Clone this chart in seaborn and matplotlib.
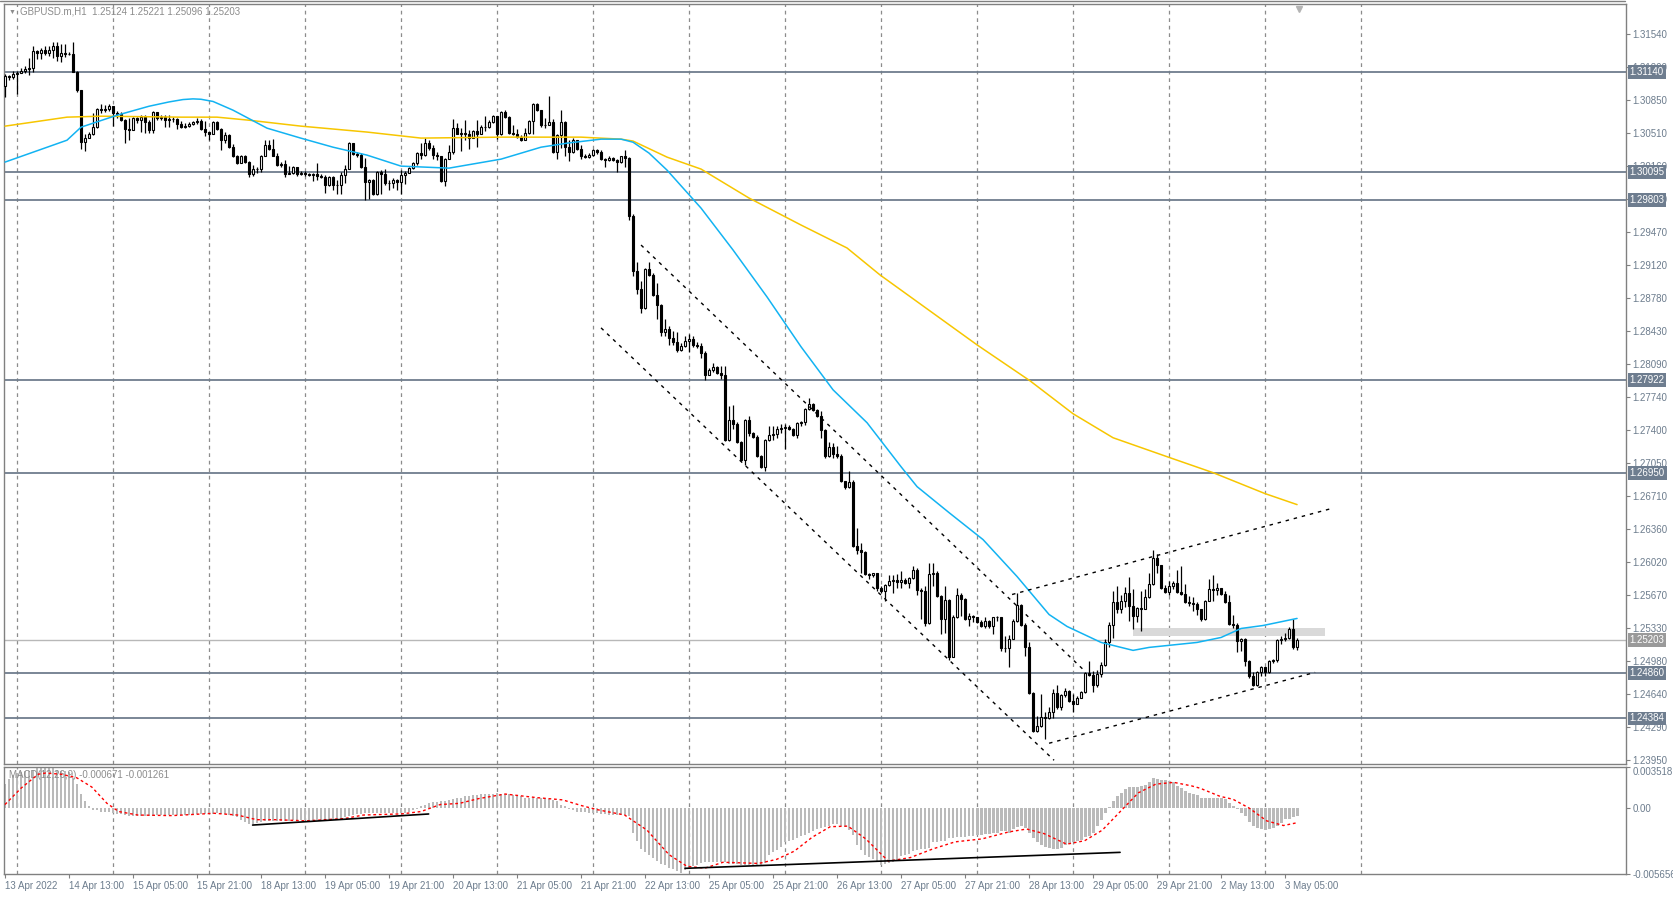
import numpy as np
import seaborn as sns
import matplotlib.pyplot as plt
from matplotlib.lines import Line2D
from matplotlib.transforms import blended_transform_factory

# GBPUSD.m H1 candles, 13 Apr 2022 21:00 .. 3 May 2022 08:00 (open = previous close)
first_open = 1.3100
closes = [
    1.3110, 1.3109, 1.3112, 1.3113, 1.3115, 1.3117, 1.3118, 1.3136, 1.3134, 1.3137,
    1.3134, 1.3137, 1.3141, 1.3131, 1.3134, 1.3133, 1.3133, 1.3114, 1.3095, 1.3041,
    1.3045, 1.3050, 1.3057, 1.3076, 1.3075, 1.3076, 1.3079, 1.3071, 1.3070, 1.3064,
    1.3055, 1.3054, 1.3066, 1.3064, 1.3067, 1.3062, 1.3054, 1.3073, 1.3066, 1.3067,
    1.3064, 1.3065, 1.3065, 1.3060, 1.3057, 1.3058, 1.3060, 1.3062, 1.3063, 1.3055,
    1.3052, 1.3049, 1.3062, 1.3055, 1.3043, 1.3048, 1.3036, 1.3026, 1.3019, 1.3026,
    1.3020, 1.3008, 1.3013, 1.3013, 1.3027, 1.3038, 1.3034, 1.3027, 1.3017, 1.3018,
    1.3008, 1.3009, 1.3015, 1.3008, 1.3009, 1.3008, 1.3007, 1.3008, 1.3006, 1.3005,
    1.2996, 1.3005, 1.2996, 1.2996, 1.3007, 1.3013, 1.3040, 1.3029, 1.3028, 1.3015,
    1.2999, 1.3001, 1.2987, 1.3010, 1.3008, 1.2998, 1.2998, 1.3001, 1.2999, 1.3007,
    1.3009, 1.3014, 1.3019, 1.3030, 1.3028, 1.3040, 1.3035, 1.3028, 1.3026, 1.3000,
    1.3023, 1.3031, 1.3056, 1.3050, 1.3051, 1.3049, 1.3045, 1.3053, 1.3050, 1.3057,
    1.3057, 1.3062, 1.3068, 1.3050, 1.3073, 1.3067, 1.3051, 1.3050, 1.3046, 1.3043,
    1.3051, 1.3063, 1.3081, 1.3075, 1.3059, 1.3059, 1.3062, 1.3031, 1.3048, 1.3062,
    1.3036, 1.3031, 1.3043, 1.3034, 1.3026, 1.3025, 1.3028, 1.3033, 1.3031, 1.3023,
    1.3022, 1.3024, 1.3022, 1.3020, 1.3026, 1.3024, 1.2964, 1.2906, 1.2887, 1.2868,
    1.2908, 1.2902, 1.2881, 1.2871, 1.2842, 1.2846, 1.2836, 1.2832, 1.2824, 1.2828,
    1.2833, 1.2835, 1.2829, 1.2828, 1.2821, 1.2798, 1.2803, 1.2806, 1.2800, 1.2798,
    1.2730, 1.2750, 1.2746, 1.2727, 1.2709, 1.2750, 1.2737, 1.2733, 1.2713, 1.2701,
    1.2730, 1.2735, 1.2736, 1.2741, 1.2742, 1.2743, 1.2741, 1.2735, 1.2747, 1.2748,
    1.2762, 1.2767, 1.2761, 1.2755, 1.2740, 1.2713, 1.2722, 1.2715, 1.2713, 1.2687,
    1.2680, 1.2686, 1.2619, 1.2615, 1.2612, 1.2589, 1.2588, 1.2590, 1.2575, 1.2572,
    1.2578, 1.2582, 1.2583, 1.2581, 1.2583, 1.2580, 1.2585, 1.2594, 1.2573, 1.2572,
    1.2538, 1.2589, 1.2590, 1.2566, 1.2542, 1.2562, 1.2503, 1.2544, 1.2568, 1.2563,
    1.2542, 1.2546, 1.2544, 1.2539, 1.2535, 1.2540, 1.2535, 1.2544, 1.2545, 1.2512,
    1.2512, 1.2522, 1.2540, 1.2557, 1.2536, 1.2513, 1.2465, 1.2425, 1.2431, 1.2440,
    1.2439, 1.2445, 1.2465, 1.2450, 1.2463, 1.2467, 1.2457, 1.2454, 1.2460, 1.2466,
    1.2486, 1.2484, 1.2473, 1.2485, 1.2494, 1.2518, 1.2536, 1.2560, 1.2553, 1.2561,
    1.2570, 1.2556, 1.2546, 1.2554, 1.2553, 1.2565, 1.2579, 1.2606, 1.2599, 1.2575,
    1.2571, 1.2577, 1.2580, 1.2571, 1.2569, 1.2560, 1.2559, 1.2558, 1.2553, 1.2542,
    1.2561, 1.2574, 1.2573, 1.2575, 1.2569, 1.2560, 1.2537, 1.2536, 1.2519, 1.2522,
    1.2499, 1.2483, 1.2473, 1.2487, 1.2492, 1.2487, 1.2498, 1.2500, 1.2520, 1.2521,
    1.2523, 1.2532, 1.2513, 1.25203,
]
highs = [
    1.3112, 1.3111, 1.3115, 1.3115, 1.3118, 1.3121, 1.3129, 1.3141, 1.3137, 1.3139,
    1.3141, 1.3141, 1.3146, 1.3146, 1.3144, 1.3144, 1.3135, 1.3146, 1.3115, 1.3096,
    1.3050, 1.3052, 1.3071, 1.3077, 1.3081, 1.3080, 1.3081, 1.3076, 1.3074, 1.3072,
    1.3065, 1.3066, 1.3067, 1.3067, 1.3069, 1.3069, 1.3064, 1.3074, 1.3073, 1.3069,
    1.3069, 1.3069, 1.3067, 1.3066, 1.3063, 1.3061, 1.3062, 1.3063, 1.3066, 1.3065,
    1.3063, 1.3052, 1.3063, 1.3063, 1.3056, 1.3052, 1.3049, 1.3039, 1.3028, 1.3028,
    1.3028, 1.3021, 1.3017, 1.3015, 1.3028, 1.3043, 1.3043, 1.3044, 1.3030, 1.3020,
    1.3022, 1.3016, 1.3016, 1.3012, 1.3011, 1.3011, 1.3009, 1.3009, 1.3019, 1.3008,
    1.3007, 1.3006, 1.3006, 1.3001, 1.3010, 1.3017, 1.3041, 1.3040, 1.3031, 1.3030,
    1.3024, 1.3002, 1.3002, 1.3011, 1.3012, 1.3013, 1.3001, 1.3003, 1.3002, 1.3012,
    1.3011, 1.3015, 1.3020, 1.3031, 1.3040, 1.3045, 1.3043, 1.3038, 1.3031, 1.3026,
    1.3024, 1.3038, 1.3065, 1.3061, 1.3056, 1.3064, 1.3054, 1.3054, 1.3064, 1.3059,
    1.3068, 1.3064, 1.3069, 1.3068, 1.3074, 1.3075, 1.3068, 1.3059, 1.3055, 1.3048,
    1.3056, 1.3064, 1.3082, 1.3082, 1.3075, 1.3066, 1.3089, 1.3065, 1.3049, 1.3075,
    1.3063, 1.3043, 1.3045, 1.3040, 1.3038, 1.3029, 1.3030, 1.3034, 1.3034, 1.3033,
    1.3024, 1.3026, 1.3025, 1.3023, 1.3027, 1.3033, 1.3025, 1.2966, 1.2916, 1.2896,
    1.2909, 1.2916, 1.2904, 1.2894, 1.2872, 1.2856, 1.2849, 1.2843, 1.2842, 1.2831,
    1.2838, 1.2840, 1.2838, 1.2832, 1.2831, 1.2823, 1.2805, 1.2810, 1.2807, 1.2807,
    1.2807, 1.2765, 1.2766, 1.2748, 1.2728, 1.2751, 1.2755, 1.2738, 1.2735, 1.2714,
    1.2731, 1.2744, 1.2744, 1.2744, 1.2746, 1.2746, 1.2745, 1.2742, 1.2748, 1.2749,
    1.2763, 1.2773, 1.2768, 1.2762, 1.2760, 1.2741, 1.2727, 1.2726, 1.2723, 1.2715,
    1.2687, 1.2697, 1.2688, 1.2638, 1.2622, 1.2613, 1.2591, 1.2591, 1.2589, 1.2577,
    1.2579, 1.2588, 1.2588, 1.2589, 1.2593, 1.2585, 1.2586, 1.2598, 1.2596, 1.2575,
    1.2577, 1.2601, 1.2601, 1.2593, 1.2567, 1.2577, 1.2563, 1.2547, 1.2575, 1.2570,
    1.2564, 1.2549, 1.2547, 1.2545, 1.2541, 1.2544, 1.2541, 1.2545, 1.2546, 1.2541,
    1.2525, 1.2526, 1.2542, 1.2570, 1.2558, 1.2538, 1.2518, 1.2466, 1.2441, 1.2464,
    1.2445, 1.2450, 1.2469, 1.2473, 1.2464, 1.2470, 1.2468, 1.2464, 1.2462, 1.2467,
    1.2487, 1.2498, 1.2488, 1.2489, 1.2497, 1.2521, 1.2539, 1.2572, 1.2577, 1.2567,
    1.2576, 1.2586, 1.2574, 1.2555, 1.2572, 1.2574, 1.2591, 1.2615, 1.2610, 1.2599,
    1.2578, 1.2582, 1.2582, 1.2594, 1.2598, 1.2579, 1.2566, 1.2565, 1.2560, 1.2553,
    1.2562, 1.2584, 1.2588, 1.2580, 1.2575, 1.2572, 1.2567, 1.2547, 1.2538, 1.2523,
    1.2523, 1.2500, 1.2487, 1.2488, 1.2493, 1.2492, 1.2500, 1.2501, 1.2521, 1.2525,
    1.2528, 1.2534, 1.2542, 1.25221,
]
lows = [
    1.3088, 1.3106, 1.3107, 1.3091, 1.3113, 1.3113, 1.3111, 1.3114, 1.3128, 1.3128,
    1.3132, 1.3131, 1.3129, 1.3126, 1.3125, 1.3130, 1.3132, 1.3114, 1.3093, 1.3034,
    1.3032, 1.3045, 1.3048, 1.3056, 1.3071, 1.3073, 1.3074, 1.3058, 1.3066, 1.3063,
    1.3040, 1.3043, 1.3054, 1.3061, 1.3052, 1.3051, 1.3051, 1.3051, 1.3064, 1.3064,
    1.3057, 1.3057, 1.3062, 1.3055, 1.3056, 1.3056, 1.3057, 1.3059, 1.3060, 1.3054,
    1.3047, 1.3043, 1.3049, 1.3054, 1.3033, 1.3040, 1.3035, 1.3025, 1.3018, 1.3019,
    1.3019, 1.3005, 1.3006, 1.3009, 1.3010, 1.3026, 1.3033, 1.3026, 1.3016, 1.3015,
    1.3005, 1.3008, 1.3008, 1.3006, 1.3007, 1.3006, 1.3006, 1.3000, 1.3001, 1.3003,
    1.2988, 1.2995, 1.2991, 1.2987, 1.2987, 1.2998, 1.3013, 1.3028, 1.3025, 1.3014,
    1.2980, 1.2981, 1.2986, 1.2986, 1.2987, 1.2996, 1.2991, 1.2993, 1.2991, 1.2987,
    1.2997, 1.3009, 1.3013, 1.3017, 1.3023, 1.3027, 1.3033, 1.3023, 1.3022, 1.2999,
    1.2995, 1.3027, 1.3029, 1.3049, 1.3032, 1.3043, 1.3034, 1.3045, 1.3036, 1.3049,
    1.3053, 1.3056, 1.3061, 1.3044, 1.3048, 1.3066, 1.3050, 1.3048, 1.3045, 1.3042,
    1.3043, 1.3049, 1.3050, 1.3074, 1.3057, 1.3056, 1.3059, 1.3030, 1.3023, 1.3035,
    1.3026, 1.3021, 1.3030, 1.3033, 1.3023, 1.3024, 1.3024, 1.3027, 1.3029, 1.3022,
    1.3015, 1.3021, 1.3021, 1.3010, 1.3019, 1.3015, 1.2960, 1.2901, 1.2882, 1.2862,
    1.2866, 1.2901, 1.2880, 1.2856, 1.2838, 1.2838, 1.2829, 1.2829, 1.2822, 1.2823,
    1.2827, 1.2822, 1.2827, 1.2826, 1.2815, 1.2792, 1.2797, 1.2801, 1.2799, 1.2793,
    1.2728, 1.2729, 1.2741, 1.2726, 1.2708, 1.2703, 1.2734, 1.2732, 1.2712, 1.2700,
    1.2697, 1.2728, 1.2730, 1.2732, 1.2737, 1.2720, 1.2740, 1.2734, 1.2732, 1.2744,
    1.2745, 1.2761, 1.2760, 1.2754, 1.2732, 1.2711, 1.2712, 1.2711, 1.2711, 1.2686,
    1.2678, 1.2679, 1.2618, 1.2610, 1.2591, 1.2588, 1.2584, 1.2586, 1.2572, 1.2570,
    1.2561, 1.2577, 1.2570, 1.2575, 1.2575, 1.2579, 1.2575, 1.2584, 1.2567, 1.2542,
    1.2535, 1.2537, 1.2577, 1.2565, 1.2527, 1.2528, 1.2500, 1.2503, 1.2543, 1.2546,
    1.2541, 1.2535, 1.2539, 1.2538, 1.2534, 1.2533, 1.2533, 1.2527, 1.2540, 1.2509,
    1.2508, 1.2492, 1.2521, 1.2539, 1.2535, 1.2504, 1.2464, 1.2424, 1.2424, 1.2429,
    1.2417, 1.2438, 1.2439, 1.2448, 1.2447, 1.2461, 1.2456, 1.2445, 1.2454, 1.2460,
    1.2465, 1.2483, 1.2466, 1.2471, 1.2482, 1.2493, 1.2513, 1.2523, 1.2549, 1.2549,
    1.2555, 1.2540, 1.2532, 1.2539, 1.2530, 1.2555, 1.2564, 1.2578, 1.2591, 1.2574,
    1.2570, 1.2568, 1.2574, 1.2570, 1.2567, 1.2559, 1.2556, 1.2551, 1.2547, 1.2540,
    1.2541, 1.2561, 1.2561, 1.2568, 1.2568, 1.2559, 1.2536, 1.2533, 1.2508, 1.2509,
    1.2493, 1.2481, 1.2472, 1.2472, 1.2483, 1.2483, 1.2486, 1.2496, 1.2497, 1.2516,
    1.2519, 1.2522, 1.2511, 1.25096,
]

# moving averages (bar index, price)
ma_fast_idx = [0, 15.5, 19, 28, 36, 41, 44.5, 47, 49, 52, 57, 65.5, 74, 82, 90.5, 99, 111, 124,
               134, 140.5, 149, 154, 157, 161, 165.5, 174, 182, 190.5, 199, 207, 215.5, 224,
               228, 236, 244.5, 253, 261, 265.5, 274, 282, 286, 298, 304, 309, 314.5, 323]
ma_fast = [1.30201, 1.30430, 1.30566, 1.30691, 1.30785, 1.30830, 1.30855, 1.30862, 1.30858,
           1.30835, 1.30744, 1.30556, 1.30451, 1.30357, 1.30274, 1.30159, 1.30138, 1.30232,
           1.30357, 1.30399, 1.30441, 1.30441, 1.30409, 1.30295, 1.30117, 1.29720, 1.29282,
           1.28791, 1.28270, 1.27820, 1.27476, 1.27016, 1.26808, 1.26536, 1.26254, 1.25868,
           1.25471, 1.25346, 1.25179, 1.25096, 1.25127, 1.25179, 1.25231, 1.25325, 1.25356,
           1.25430]
ma_slow_idx = [0, 15.5, 24, 44, 53, 61, 74, 90.5, 104, 124, 144, 154, 157, 165.5, 174, 186,
               199, 210.5, 218.75, 243, 256.25, 267, 277, 291.25, 302, 315, 323]
ma_slow = [1.30577, 1.30671, 1.30681, 1.30671, 1.30671, 1.30639, 1.30577, 1.30515, 1.30452,
           1.30462, 1.30462, 1.30441, 1.30421, 1.30253, 1.30128, 1.29825, 1.29543, 1.29303,
           1.29021, 1.28290, 1.27914, 1.27570, 1.27319, 1.27110, 1.26954, 1.26735, 1.26620]

levels = [1.31140, 1.30095, 1.29803, 1.27922, 1.26950, 1.24860, 1.24384]
last_price = 1.25203
zone_idx = [282, 330]
zone_price = [1.25242, 1.25325]

# dashed trend lines: (bar index pair, price pair)
trend_lines = [
    ([159, 269.5], [1.29334, 1.24897]),
    ([149, 262.25], [1.28468, 1.23947]),
    ([251.75, 331.5], [1.25680, 1.26578]),
    ([261, 327.5], [1.24125, 1.24866]),
]

price_ticks = [1.31540, 1.31200, 1.30850, 1.30510, 1.30160, 1.29820, 1.29470, 1.29120,
               1.28780, 1.28430, 1.28090, 1.27740, 1.27400, 1.27050, 1.26710, 1.26360,
               1.26020, 1.25670, 1.25330, 1.24980, 1.24640, 1.24290, 1.23950]
time_labels = ["13 Apr 2022", "14 Apr 13:00", "15 Apr 05:00", "15 Apr 21:00", "18 Apr 13:00",
               "19 Apr 05:00", "19 Apr 21:00", "20 Apr 13:00", "21 Apr 05:00", "21 Apr 21:00",
               "22 Apr 13:00", "25 Apr 05:00", "25 Apr 21:00", "26 Apr 13:00", "27 Apr 05:00",
               "27 Apr 21:00", "28 Apr 13:00", "29 Apr 05:00", "29 Apr 21:00", "2 May 13:00",
               "3 May 05:00"]

# MACD(12,26,9) main values, units of 0.0001
macd_hist = [
    21, 25, 28, 30, 31, 32, 32, 33, 34, 35,
    35, 35, 34, 33, 32, 32, 31, 26, 21, 12,
    6, 2, -2, -2, -3, -3, -3, -4, -5, -5,
    -6, -7, -7, -7, -7, -7, -7, -7, -6, -6,
    -6, -6, -6, -6, -6, -6, -6, -6, -5, -5,
    -5, -5, -5, -4, -5, -5, -6, -7, -8, -10,
    -12, -14, -14, -13, -12, -11, -11, -11, -11, -11,
    -11, -11, -10, -10, -10, -10, -10, -10, -10, -10,
    -10, -10, -10, -10, -9, -8, -7, -6, -5, -5,
    -4, -4, -4, -4, -4, -4, -4, -4, -4, -4,
    -4, -3, -2, -1, 2, 3, 4, 5, 5, 6,
    6, 7, 8, 9, 9, 10, 10, 11, 11, 12,
    12, 12, 12, 13, 12, 12, 12, 11, 10, 10,
    9, 9, 9, 9, 9, 9, 8, 7, 6, 3,
    2, -1, -2, -3, -3, -3, -4, -4, -4, -5,
    -5, -6, -6, -6, -6, -6, -7, -21, -28, -35,
    -38, -40, -43, -45, -48, -49, -51, -52, -54, -56,
    -53, -51, -50, -49, -47, -46, -46, -46, -46, -46,
    -46, -48, -48, -48, -49, -49, -49, -49, -49, -49,
    -47, -40, -38, -36, -33, -29, -28, -27, -26, -24,
    -23, -21, -20, -18, -17, -16, -15, -14, -14, -15,
    -16, -19, -23, -32, -36, -40, -42, -44, -46, -49,
    -48, -47, -46, -45, -41, -40, -39, -37, -36, -35,
    -35, -34, -29, -29, -28, -28, -26, -26, -25, -25,
    -25, -24, -24, -23, -23, -22, -22, -21, -21, -20,
    -20, -21, -18, -16, -15, -17, -21, -26, -29, -32,
    -33, -34, -35, -35, -34, -32, -31, -29, -28, -27,
    -25, -24, -21, -15, -10, -4, 1, 6, 10, 13,
    16, 18, 18, 18, 19, 20, 22, 26, 25, 24,
    24, 23, 22, 19, 17, 15, 13, 12, 11, 9,
    9, 9, 9, 9, 9, 8, 4, 2, -1, -4,
    -7, -12, -15, -17, -18, -19, -18, -17, -15, -13,
    -9, -9, -8, -6.71,
]
signal_idx = [0, 4, 8.3, 10.2, 14, 17.9, 21.7, 25.5, 28.4, 33.2, 41.8, 52.3, 58.1, 62.9, 67.6,
              75.3, 84.9, 89.6, 99.2, 104, 108.8, 113.6, 118.3, 125, 132.7, 139.4, 144.2,
              148.2, 154.9, 160.5, 166, 170.5, 175, 179.5, 184, 188.4, 192.9, 197.3, 201.8,
              206.3, 210.7, 215.2, 220.8, 226.3, 232, 237.5, 244.2, 250.9, 255.4, 259.8,
              265.4, 269.9, 274.3, 278.8, 283.3, 287.7, 292.2, 296.6, 298.75, 303.75, 307,
              311, 315.4, 319.6, 323]
signal_val = [3, 17, 29, 30, 29, 26, 18, 4, -3, -6, -6.5, -4.5, -6, -10, -10, -11, -9, -6, -5,
              -3, 3, 4, 8, 12, 9, 7, 2, -1.5, -6, -19, -40, -50, -51.5, -46.5, -47, -47.5,
              -44, -37, -25, -16, -15.5, -26.5, -45.5, -42.5, -35, -29, -26.5, -20.5, -18,
              -22, -31, -28, -19, -3, 13, 20.5, 22, 19, 17, 10, 7.5, 0, -11, -15, -12.61]
macd_lines = [
    ([61.9, 105.9], [-14.6, -5.1]),
    ([170, 278.75], [-51.7, -38.0]),
]

# ---------------------------------------------------------------
sns.set_style("white")
plt.rcParams['font.family'] = ['Liberation Sans', 'DejaVu Sans']

W, H = 1673, 897
fig = plt.figure(figsize=(W / 100, H / 100), dpi=100)
ax = fig.add_axes([4 / W, 1 - 764 / H, 1621.5 / W, 760 / H])
ax2 = fig.add_axes([4 / W, 1 - 874 / H, 1621.5 / W, 107 / H])

frame_col = '#808080'
text_col = '#6c7c8d'
grid_col = '#8c8c8c'

n = len(closes)
idx = np.arange(n)
c = np.array(closes)
o = np.array([first_open] + closes[:-1])
hi = np.maximum(np.array(highs), np.maximum(o, c))
lo = np.minimum(np.array(lows), np.minimum(o, c))
face = np.where(c >= o, 'white', 'black')

# candles
ax.vlines(idx, lo, hi, color='black', lw=0.9, zorder=4)
ax.bar(idx, np.abs(c - o), bottom=np.minimum(o, c), width=0.5, color=face,
       edgecolor='black', linewidth=0.8, zorder=5)

# moving averages
sns.lineplot(x=ma_slow_idx, y=ma_slow, ax=ax, color='#f7c600', lw=1.1, zorder=6)
sns.lineplot(x=ma_fast_idx, y=ma_fast, ax=ax, color='#12b3f2', lw=1.1, zorder=6)

# horizontal levels and zone
for lv in levels:
    ax.axhline(lv, color='#6f7d8d', lw=1.3, zorder=2)
ax.axhline(last_price, color='#b8b8b8', lw=1, zorder=2)
ax.fill_between(zone_idx, zone_price[0], zone_price[1], color='#d9d9d9', lw=0, zorder=1)

for xs, ys in trend_lines:
    sns.lineplot(x=xs, y=ys, ax=ax, color='black', lw=1, linestyle=(0, (2.5, 3.5)), zorder=7)

ax.set_xlim(-0.25, 405.1)
ax.set_ylim(1.23908, 1.31854)

# right price scale
ax.yaxis.tick_right()
ax.set_yticks(price_ticks)
ax.set_yticklabels([f'{p:.5f}' for p in price_ticks])
ax.tick_params(axis='y', length=3, width=0.8, color=frame_col, labelsize=7,
               labelcolor=text_col, pad=2, right=True, left=False)
trans = blended_transform_factory(ax.transAxes, ax.transData)
for lv in levels:
    ax.text(1.0025, lv, f'{lv:.5f}', transform=trans, ha='left', va='center', fontsize=7,
            color='white', clip_on=False, zorder=20,
            bbox=dict(boxstyle='square,pad=0.2', fc='#6e7d8f', ec='none'))
ax.text(1.0025, last_price, f'{last_price:.5f}', transform=trans, ha='left', va='center',
        fontsize=7, color='white', clip_on=False, zorder=20,
        bbox=dict(boxstyle='square,pad=0.2', fc='#9a9a9a', ec='none'))

# vertical grid (every 24 bars) in both panels
grid_idx = np.arange(3, 340, 24)
for a in (ax, ax2):
    a.set_xticks(grid_idx, minor=True)
    a.xaxis.grid(True, which='minor', color=grid_col, linestyle=(0, (3, 3)), lw=0.9)
    a.yaxis.grid(False)
    for s in a.spines.values():
        s.set_color(frame_col)
        s.set_linewidth(1)
ax.set_xticks([])
ax.tick_params(axis='x', which='both', length=0)

# chart shift marker
ax.plot([n - 0.5], [0.994], marker='v', ms=5, color='#b4b4b4',
        transform=blended_transform_factory(ax.transData, ax.transAxes), clip_on=False, zorder=8)

# MACD panel
ax2.bar(idx, np.array(macd_hist) * 1e-4, width=0.72, color='#bababa', lw=0, zorder=2)
sns.lineplot(x=signal_idx, y=np.array(signal_val) * 1e-4, ax=ax2, color='red', lw=1,
             linestyle=(0, (2, 2)), zorder=4)
for xs, ys in macd_lines:
    sns.lineplot(x=xs, y=np.array(ys) * 1e-4, ax=ax2, color='black', lw=1.2, zorder=5)
ax2.set_xlim(-0.25, 405.1)
ax2.set_ylim(-0.005656, 0.003518)
ax2.yaxis.tick_right()
ax2.set_yticks([0.003518, 0.0, -0.005656])
ax2.set_yticklabels(['0.003518', '0.00', '-0.005656'])
ax2.tick_params(axis='y', length=3, width=0.8, color=frame_col, labelsize=7,
                labelcolor=text_col, pad=2, right=True, left=False)
ax2.get_yticklabels()[0].set_va('top')

label_idx = np.arange(0, 321, 16)
ax2.set_xticks(label_idx)
ax2.set_xticklabels(time_labels, ha='left')
ax2.tick_params(axis='x', which='major', length=3, width=0.8, color=frame_col, labelsize=7,
                labelcolor=text_col, pad=2, bottom=True)
ax2.tick_params(axis='x', which='minor', length=0)
ax2.set_xlabel('')
ax2.set_ylabel('')
ax.set_xlabel('')
ax.set_ylabel('')

ax2.text(0.003, 0.925, 'MACD(12,26,9) -0.000671 -0.001261', transform=ax2.transAxes,
         fontsize=7, color='#8c8c8c', va='center', ha='left', zorder=3)

# header
fig.text(9 / W, 1 - 12 / H, '\u25bc', fontsize=5, color='#8c8c8c', va='center', ha='left')
fig.text(20 / W, 1 - 12 / H, 'GBPUSD.m,H1  1.25124 1.25221 1.25096 1.25203', fontsize=7,
         color='#8c8c8c', va='center', ha='left')
fig.add_artist(Line2D([0, 1625 / W], [1 - 1 / H, 1 - 1 / H], transform=fig.transFigure,
                      color=frame_col, lw=1))

fig.savefig('out.png', dpi=100)
